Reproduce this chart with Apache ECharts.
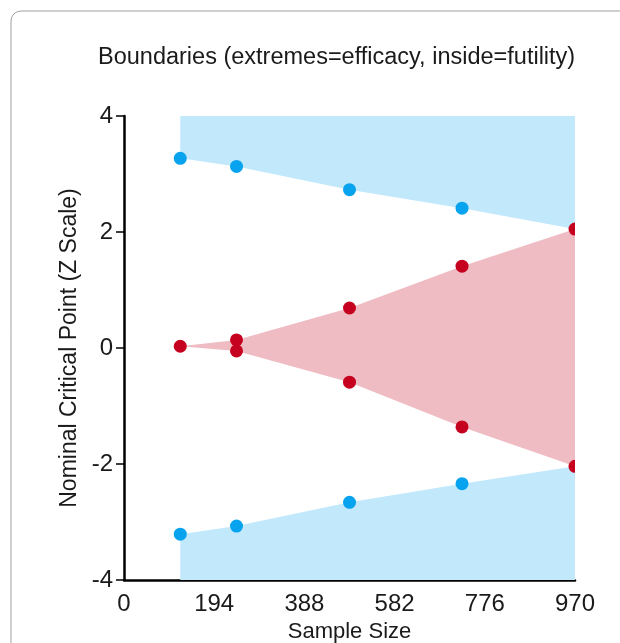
<!DOCTYPE html>
<html>
<head>
<meta charset="UTF-8">
<title>boundaries</title>
<script src="https://cdn.jsdelivr.net/npm/echarts@6/dist/echarts.min.js"></script>
<style>
  html, body { margin: 0; padding: 0; background: #fff; }
  #main { width: 620px; height: 643px; }
</style>
</head>
<body>
<div id="main"></div>
<script>
// sample sizes at each look
var looks = [121, 242, 485, 727, 970];
// efficacy boundaries (outside)
var upperEff = [3.27, 3.13, 2.73, 2.41, 2.05];
var lowerEff = [-3.21, -3.07, -2.66, -2.34, -2.04];
// futility boundaries (inside)
var upperFut = [0.03, 0.14, 0.69, 1.41, 2.05];
var lowerFut = [0.03, -0.05, -0.59, -1.36, -2.04];
var xTicks = [0, 194, 388, 582, 776, 970];
var yTicks = [-4, -2, 0, 2, 4];

var font = '"Liberation Sans Narrow", "Liberation Sans", Arial, sans-serif';
var blueFill = '#c2e8fc', blueDot = '#07a3ee';
var redFill = '#efbcc3', redDot = '#c6001f';

// polygon between two curves (second one walked backwards)
function band(top, bottom) {
  var pts = [];
  for (var i = 0; i < looks.length; i++) pts.push([looks[i], top[i]]);
  for (var j = looks.length - 1; j >= 0; j--) pts.push([looks[j], bottom[j]]);
  return pts;
}
var yMax = looks.map(function () { return yTicks[yTicks.length - 1]; });
var yMin = looks.map(function () { return yTicks[0]; });

var polys = [
  { pts: band(yMax, upperEff), color: blueFill },
  { pts: band(yMin, lowerEff), color: blueFill },
  { pts: band(upperFut, lowerFut), color: redFill }
];

var dots = [];
for (var i = 0; i < looks.length; i++) {
  var last = i === looks.length - 1;
  dots.push([looks[i], upperEff[i], last ? redDot : blueDot]);
  dots.push([looks[i], lowerEff[i], last ? redDot : blueDot]);
  if (!last) {
    dots.push([looks[i], upperFut[i], redDot]);
    if (lowerFut[i] !== upperFut[i]) dots.push([looks[i], lowerFut[i], redDot]);
  }
}

var myChart = echarts.init(document.getElementById('main'));

option = {
  animation: false,
  title: {
    text: 'Boundaries (extremes=efficacy, inside=futility)',
    left: 93,
    top: 41,
    textStyle: { fontFamily: font, fontSize: 23.5, fontWeight: 'normal', color: '#1a1a1a' }
  },
  graphic: [{
    type: 'rect',
    shape: { x: 11, y: 11, width: 700, height: 700, r: 10 },
    style: { fill: 'none', stroke: '#a0a0a0', lineWidth: 1 },
    silent: true
  }],
  grid: { left: 124, right: 45, top: 116, bottom: 63, outerBoundsMode: 'none', containLabel: false },
  xAxis: {
    type: 'value',
    min: xTicks[0],
    max: xTicks[xTicks.length - 1],
    interval: 194,
    name: 'Sample Size',
    nameLocation: 'middle',
    nameGap: 40,
    nameTextStyle: { fontFamily: font, fontSize: 22, color: '#1a1a1a' },
    axisLine: { onZero: false, lineStyle: { color: '#000', width: 2.5 } },
    axisTick: { show: false },
    splitLine: { show: false },
    axisLabel: { fontFamily: font, fontSize: 24, color: '#1a1a1a', margin: 12 }
  },
  yAxis: {
    type: 'value',
    min: yTicks[0],
    max: yTicks[yTicks.length - 1],
    interval: 2,
    name: 'Nominal Critical Point (Z Scale)',
    nameLocation: 'middle',
    nameGap: 43,
    nameTextStyle: { fontFamily: font, fontSize: 23, color: '#1a1a1a' },
    axisLine: { show: true, lineStyle: { color: '#000', width: 2.5 } },
    axisTick: { show: true, length: 8, lineStyle: { color: '#000', width: 1.5 } },
    splitLine: { show: false },
    axisLabel: { fontFamily: font, fontSize: 24, color: '#1a1a1a', margin: 11 }
  },
  series: [
    {
      type: 'custom',
      clip: true,
      data: polys.map(function (p, k) { return [k]; }),
      renderItem: function (params, api) {
        var p = polys[params.dataIndex];
        return {
          type: 'polygon',
          shape: { points: p.pts.map(function (d) { return api.coord(d); }) },
          style: { fill: p.color }
        };
      }
    },
    {
      type: 'custom',
      clip: true,
      data: dots,
      renderItem: function (params, api) {
        var c = api.coord([api.value(0), api.value(1)]);
        return {
          type: 'circle',
          shape: { cx: c[0], cy: c[1], r: 6.5 },
          style: { fill: dots[params.dataIndex][2] }
        };
      }
    }
  ]
};
myChart.setOption(option);
</script>
</body>
</html>
